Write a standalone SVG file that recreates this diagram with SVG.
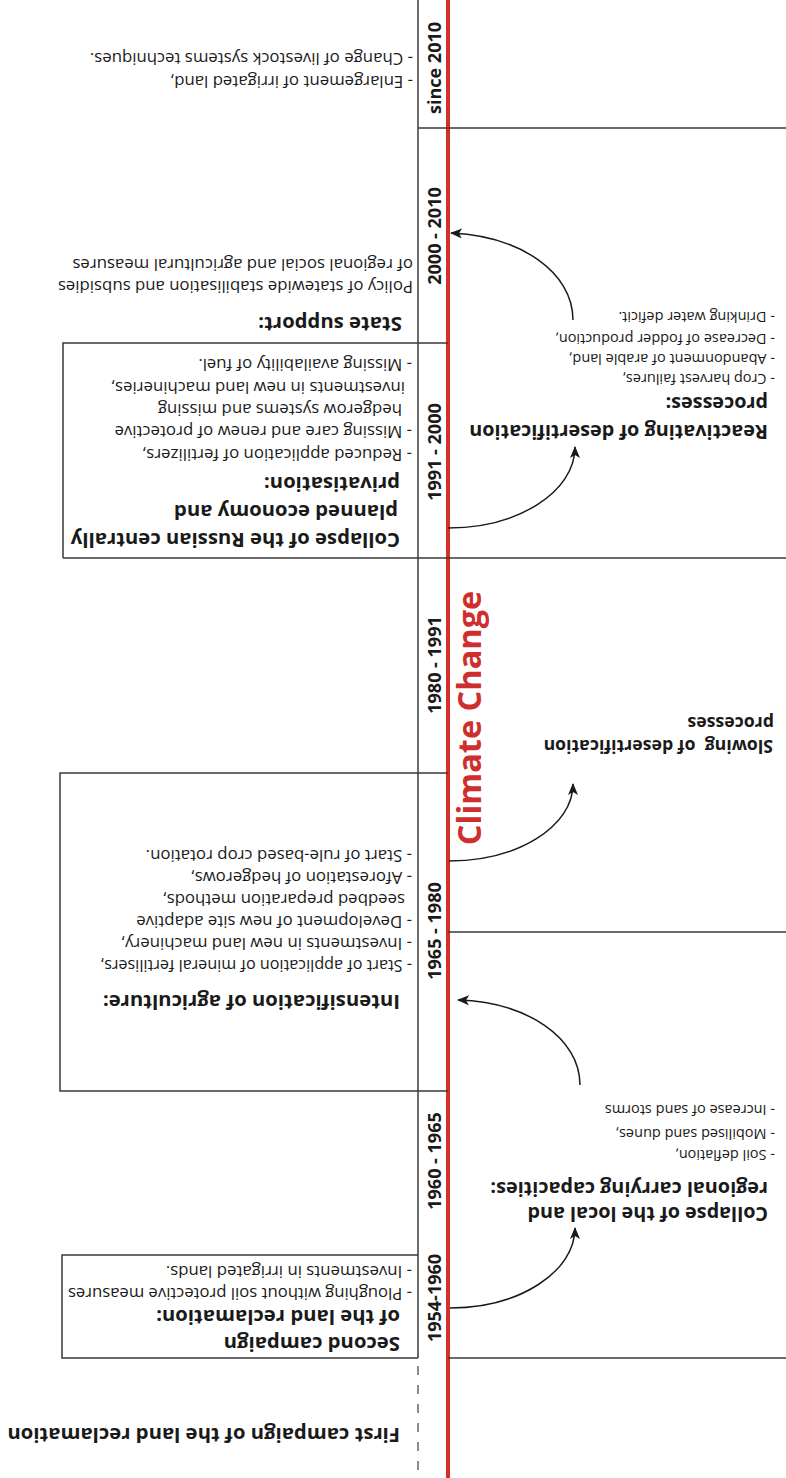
<svg xmlns="http://www.w3.org/2000/svg" width="786" height="1478" viewBox="0 0 786 1478">
<style>
.t{font-family:"Open Sans","Noto Sans",sans-serif;fill:#1a1a1a}
.b{font-weight:700;font-size:20.3px}
.n{font-size:16.8px}
.s{font-size:14.5px}
.sb{font-weight:700;font-size:19.8px}
.sl{font-weight:700;font-size:17.7px}
.d{font-weight:700;font-size:18px;text-anchor:middle}
.cc{font-family:"Open Sans","Noto Sans",sans-serif;fill:#cf2e2e;font-weight:700;font-size:32.5px;text-anchor:middle}
.ln{stroke:#3a3a3a;stroke-width:1.5;fill:none}
.ar{stroke:#1a1a1a;stroke-width:1.5;fill:none;marker-end:url(#ah)}
</style>
<defs>
<marker id="ah" viewBox="0 0 12 10" refX="11" refY="5" markerWidth="12" markerHeight="10" markerUnits="userSpaceOnUse" orient="auto">
<path d="M0,0 L12,5 L0,10 L3,5 z" fill="#1a1a1a"/>
</marker>
</defs>
<rect width="786" height="1478" fill="#ffffff"/>
<g transform="rotate(180 393 739)">
  <g id="timeline">
    <line x1="338" y1="0" x2="338" y2="1478" stroke="#d3302c" stroke-width="4"/>
    <line class="ln" x1="368" y1="120" x2="368" y2="1478"/>
    <line x1="368" y1="112" x2="368" y2="0" stroke="#666" stroke-width="1.5" stroke-dasharray="9 10"/>
    <line class="ln" x1="0" y1="1350" x2="368" y2="1350"/>
    <line class="ln" x1="0" y1="920" x2="723" y2="920"/>
    <line class="ln" x1="0" y1="546" x2="338" y2="546"/>
    <line class="ln" x1="0" y1="120" x2="338" y2="120"/>
    <text class="cc" transform="translate(305 760) rotate(90)">Climate Change</text>
  </g>
  <g id="dates" class="t">
    <text class="d" transform="translate(345 1410) rotate(90)">since 2010</text>
    <text class="d" transform="translate(345 1242) rotate(90)">2000 - 2010</text>
    <text class="d" transform="translate(345 1026) rotate(90)">1991 - 2000</text>
    <text class="d" transform="translate(345 813) rotate(90)">1980 - 1991</text>
    <text class="d" transform="translate(345 547) rotate(90)">1965 - 1980</text>
    <text class="d" transform="translate(345 317) rotate(90)">1960 - 1965</text>
    <text class="d" transform="translate(345 180) rotate(90)">1954-1960</text>
  </g>
  <g id="since2010" class="t n">
    <text x="373" y="1402">- Enlargement of irrigated land,</text>
    <text x="373" y="1425">- Change of livestock systems techniques.</text>
  </g>
  <g id="state-support" class="t">
    <text class="b" x="384" y="1161">State support:</text>
    <text class="n" x="373" y="1197">Policy of statewide stabilisation and subsidies</text>
    <text class="n" x="373" y="1219">of regional social and agricultural measures</text>
  </g>
  <g id="collapse-russian" class="t">
    <path class="ln" d="M338,1135 H723 V920"/>
    <text class="b" x="386" y="945">Collapse of the Russian centrally</text>
    <text class="b" x="388" y="973">planned economy and</text>
    <text class="b" x="386" y="1001">privatisation:</text>
    <text class="n" x="374" y="1029">- Reduced application of fertilizers,</text>
    <text class="n" x="374" y="1052">- Missing care and renew of protective</text>
    <text class="n" x="384" y="1074">hedgerow systems and missing</text>
    <text class="n" x="381" y="1096">investments in new land machineries,</text>
    <text class="n" x="374" y="1119">- Missing availability of fuel.</text>
  </g>
  <g id="intensification" class="t">
    <path class="ln" d="M338,705 H726 V387 H338"/>
    <text class="b" x="386" y="483">Intensification of agriculture:</text>
    <text class="n" x="374" y="518" textLength="312" lengthAdjust="spacingAndGlyphs">- Start of application of mineral fertilisers,</text>
    <text class="n" x="374" y="540">- Investments in new land machinery,</text>
    <text class="n" x="374" y="562">- Development of new site adaptive</text>
    <text class="n" x="381" y="584">seedbed preparation methods,</text>
    <text class="n" x="374" y="606">- Aforestation of hedgerows,</text>
    <text class="n" x="374" y="628">- Start of rule-based crop rotation.</text>
  </g>
  <g id="second-campaign" class="t">
    <path class="ln" d="M368,223 H724 V120 H368"/>
    <text class="b" x="386" y="141">Second campaign</text>
    <text class="b" x="386" y="168">of the land reclamation:</text>
    <text class="n" x="374" y="190" textLength="344" lengthAdjust="spacingAndGlyphs">- Ploughing without soil protective measures</text>
    <text class="n" x="374" y="212">- Investments in irrigated lands.</text>
  </g>
  <g id="first-campaign" class="t">
    <text class="b" x="386" y="50">First campaign of the land reclamation</text>
  </g>
  <g id="reactivating" class="t">
    <text class="sb" x="18" y="1053">Reactivating of desertification</text>
    <text class="sb" x="18" y="1081">processes:</text>
    <text class="s" x="11" y="1104">- Crop harvest failures,</text>
    <text class="s" x="11" y="1124">- Abandonment of arable land,</text>
    <text class="s" x="11" y="1144">- Decrease of fodder production,</text>
    <text class="s" x="11" y="1166">- Drinking water deficit.</text>
  </g>
  <g id="slowing" class="t">
    <text class="sl" x="13" y="738" style="white-space:pre">Slowing  of desertification</text>
    <text class="sl" x="12" y="761">processes</text>
  </g>
  <g id="collapse-local" class="t">
    <text class="sb" x="18" y="271">Collapse of the local and</text>
    <text class="sb" x="18" y="296">regional carrying capacities:</text>
    <text class="s" x="11" y="328">- Soil deflation,</text>
    <text class="s" x="11" y="349">- Mobilised sand dunes,</text>
    <text class="s" x="11" y="373">- Increase of sand storms</text>
  </g>
  <g id="connectors">
    <path class="ar" d="M338,950 C268,950 211,986 211,1031"/>
    <path class="ar" d="M213,1158 C213,1206 266,1242 335,1245"/>
    <path class="ar" d="M337,617 C269,617 213,651 213,694"/>
    <path class="ar" d="M206,393 C206,440 259,476 328,478"/>
    <path class="ar" d="M336,170 C267,170 211,206 211,250"/>
  </g>
</g>
</svg>
